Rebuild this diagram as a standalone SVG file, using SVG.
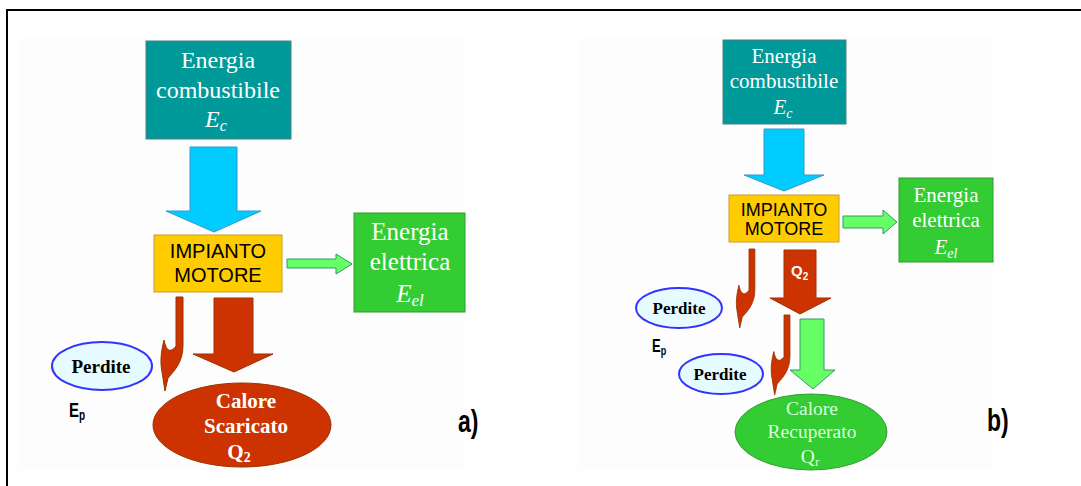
<svg xmlns="http://www.w3.org/2000/svg" width="1081" height="486" viewBox="0 0 1081 486">
<style>
.bg{fill:#fdfdfd}
.teal{fill:#009999;stroke:#4d8080;stroke-width:1}
.yel{fill:#ffcc00;stroke:#cc9933;stroke-width:1}
.grn{fill:#33cc33;stroke:#339933;stroke-width:1}
.blue{fill:#00ccff;stroke:#3399cc;stroke-width:1}
.lg{fill:#66ff66;stroke:#339966;stroke-width:1}
.red{fill:#cc3300;stroke:#993300;stroke-width:1}
.perd{fill:#e6fbff;stroke:#3333ff;stroke-width:2}
.ser{font-family:"Liberation Serif","Times New Roman",serif;fill:#ffffff;text-anchor:middle}
.sans{font-family:"Liberation Sans",Arial,sans-serif;text-anchor:middle;fill:#000000}
.pt{font-family:"Liberation Serif","Times New Roman",serif;font-weight:bold;fill:#000000;text-anchor:middle}
.lbl{font-family:"Liberation Sans",Arial,sans-serif;font-weight:bold;fill:#000000}
</style>
<defs>
<path id="jarrow" d="M0,0 H7 V48 C7,65 -1,73 -8,81 L-11,94 L-14,75 C-16,65 -15,55 -12,43 C-10,53 -6,57 0,49 Z"/>
</defs>
<rect class="bg" x="18" y="38" width="447" height="432"/>
<rect class="bg" x="578" y="38" width="415" height="432"/>
<path d="M7,486 V10 H1081" fill="none" stroke="#000" stroke-width="2"/>

<g id="connectors">
<polygon class="blue" points="190,147 237,147 237,211 261,211 214,232 166,211 190,211"/>
<polygon class="lg" points="287,259 336,259 336,254 352,264 336,274 336,268 287,268"/>
<polygon class="red" points="214,298 253,298 253,354 273,354 234,372 193,354 214,354"/>
<use href="#jarrow" class="red" transform="translate(176,297)"/>

<polygon class="blue" points="764,129 804,129 804,175 824,175 784,191 744,175 764,175"/>
<polygon class="lg" points="843,216 883,216 883,210 897,222 883,234 883,228 843,228"/>
<polygon class="red" points="784,250 816,250 816,298 831,298 800,314 770,298 784,298"/>
<polygon class="lg" points="800,319 824,319 824,370 835,370 813,389 790,370 800,370"/>
<use href="#jarrow" class="red" transform="translate(749,249) scale(0.84)"/>
<use href="#jarrow" class="red" transform="translate(784,315) scale(0.85)"/>
<text class="lbl" x="791" y="276" font-size="15" style="fill:#ffffff">Q<tspan font-size="10" dy="4">2</tspan></text>
</g>

<g id="a-combustibile">
<rect class="teal" x="146" y="41" width="145" height="98"/>
<text class="ser" font-size="24"><tspan x="218" y="68">Energia</tspan><tspan x="218" y="98">combustibile</tspan><tspan x="216" y="127" font-style="italic">E<tspan font-size="16" dy="4">c</tspan></tspan></text>
</g>
<g id="a-impianto">
<rect class="yel" x="154" y="235" width="128" height="57"/>
<text class="sans" font-size="20"><tspan x="218" y="258">IMPIANTO</tspan><tspan x="218" y="282">MOTORE</tspan></text>
</g>
<g id="a-elettrica">
<rect class="grn" x="354" y="213" width="111" height="99"/>
<text class="ser" font-size="25"><tspan x="410" y="240">Energia</tspan><tspan x="410" y="270">elettrica</tspan><tspan x="410" y="302" font-style="italic">E<tspan font-size="17" dy="4">el</tspan></tspan></text>
</g>
<g id="a-perdite">
<ellipse class="perd" cx="102" cy="366" rx="50" ry="24"/>
<text class="pt" x="101" y="373" font-size="19">Perdite</text>
</g>
<text class="lbl" font-size="15" transform="translate(69,417) scale(1,1.4)">E<tspan font-size="10" dy="2">p</tspan></text>
<g id="a-calore">
<ellipse class="red" cx="242" cy="425" rx="89" ry="42"/>
<text class="ser" font-size="21" font-weight="bold"><tspan x="246" y="408">Calore</tspan><tspan x="246" y="433">Scaricato</tspan><tspan x="239" y="459">Q<tspan font-size="14" dy="3">2</tspan></tspan></text>
</g>
<text class="lbl" font-size="23" transform="translate(458,432) scale(1,1.35)">a)</text>

<g id="b-combustibile">
<rect class="teal" x="723" y="40" width="123" height="84"/>
<text class="ser" font-size="21"><tspan x="784" y="63">Energia</tspan><tspan x="784" y="88">combustibile</tspan><tspan x="783" y="114" font-style="italic">E<tspan font-size="14" dy="4">c</tspan></tspan></text>
</g>
<g id="b-impianto">
<rect class="yel" x="729" y="195" width="110" height="47"/>
<text class="sans" font-size="18"><tspan x="784" y="216">IMPIANTO</tspan><tspan x="784" y="235">MOTORE</tspan></text>
</g>
<g id="b-elettrica">
<rect class="grn" x="899" y="178" width="94" height="84"/>
<text class="ser" font-size="21"><tspan x="946" y="202">Energia</tspan><tspan x="946" y="227">elettrica</tspan><tspan x="946" y="254" font-style="italic">E<tspan font-size="14" dy="4">el</tspan></tspan></text>
</g>
<g id="b-perdite1">
<ellipse class="perd" cx="679" cy="308" rx="43" ry="20"/>
<text class="pt" x="679" y="314" font-size="17">Perdite</text>
</g>
<text class="lbl" font-size="13" transform="translate(652,352) scale(1,1.4)">E<tspan font-size="9" dy="2">p</tspan></text>
<g id="b-perdite2">
<ellipse class="perd" cx="721" cy="374" rx="42" ry="20"/>
<text class="pt" x="720" y="380" font-size="17">Perdite</text>
</g>
<g id="b-calore">
<ellipse class="grn" cx="811" cy="432" rx="76" ry="38"/>
<text class="ser" font-size="19.5" style="fill:#d9ffd9"><tspan x="812" y="415">Calore</tspan><tspan x="812" y="438">Recuperato</tspan><tspan x="810" y="463">Q<tspan font-size="13" dy="3">r</tspan></tspan></text>
</g>
<text class="lbl" font-size="23" transform="translate(987,431) scale(1,1.35)">b)</text>
</svg>
